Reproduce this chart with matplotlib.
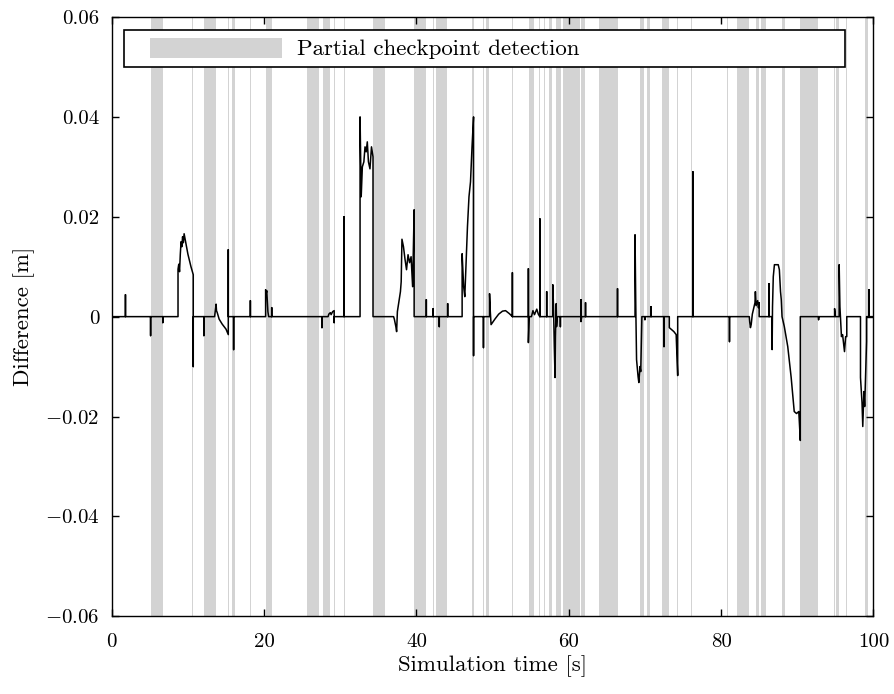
import matplotlib
matplotlib.use("Agg")
import matplotlib.pyplot as plt
import matplotlib.patches as mpatches
from matplotlib.legend_handler import HandlerPatch

plt.rcParams['font.family'] = 'serif'
plt.rcParams['font.serif'] = ['cmr10', 'DejaVu Serif']
plt.rcParams['mathtext.fontset'] = 'cm'
plt.rcParams['axes.unicode_minus'] = False
plt.rcParams['font.size'] = 16.5

# time intervals where a partial checkpoint was detected [s]
band_start = [5.16, 10.59, 12.08, 12.3, 15.27, 15.8, 18.2, 20.22, 20.43, 25.69,
              27.75, 29.19, 30.5, 34.31, 39.7, 42.2, 42.55, 47.27, 48.76, 49.11,
              52.57, 54.8, 56.1, 56.8, 57.4, 58.35, 59.3, 61.63, 64.0, 69.4,
              70.3, 72.3, 74.27, 76.1, 80.8, 82.1, 84.6, 85.2, 87.95, 90.3,
              94.8, 95.15, 96.45, 98.95]
band_end = [6.74, 10.72, 12.18, 13.74, 15.4, 16.2, 18.33, 20.35, 21.05, 27.18,
            28.63, 29.32, 30.63, 35.89, 41.3, 42.33, 43.99, 47.53, 48.9, 49.55,
            52.7, 55.5, 56.25, 56.93, 57.86, 58.96, 61.5, 62.15, 66.5, 69.9,
            70.7, 73.1, 74.4, 76.23, 80.93, 83.7, 84.96, 85.9, 88.45, 92.75,
            94.98, 95.47, 96.58, 99.35]

# difference signal
time_s = [0, 1.8, 1.8, 1.8,
          5.1, 5.1, 5.1,
          6.7, 6.7, 6.7,
          8.7, 8.7, 8.8, 8.9, 9.0, 9.1, 9.2, 9.3, 9.4, 9.5, 9.7, 10.0, 10.4, 10.7, 10.7, 10.7,
          12.1, 12.1, 12.1,
          13.5, 13.6, 13.7, 13.75, 13.85, 14.1, 14.5, 15.0, 15.3, 15.3, 15.3,
          16.0, 16.0, 16.0,
          18.2, 18.2, 18.2,
          20.2, 20.2, 20.3, 20.35, 20.5, 20.6,
          21.0, 21.0, 21.0,
          27.6, 27.6, 27.6,
          28.4, 28.5, 28.7, 28.8, 29.0, 29.2, 29.2, 29.2,
          30.5, 30.5, 30.5,
          32.6, 32.6, 32.75, 32.9, 33.1, 33.25, 33.4, 33.55, 33.7, 33.9, 34.1, 34.3, 34.3,
          37.0, 37.1, 37.3, 37.4, 37.5, 37.7, 37.8, 37.9, 38.0, 38.1, 38.3, 38.5, 38.7, 38.9,
          39.1, 39.3, 39.5, 39.7, 39.7,
          41.3, 41.3, 41.3,
          42.2, 42.2, 42.2,
          43.0, 43.0, 43.0,
          44.1, 44.1, 44.1,
          46.0, 46.0, 46.2, 46.35, 46.5, 46.7, 46.9, 47.1, 47.3, 47.5, 47.5, 47.5,
          48.8, 48.8, 48.8,
          49.6, 49.6, 49.7, 49.8, 50.3, 50.8, 51.3, 51.7, 52.2, 52.6, 52.6, 52.6,
          54.7, 54.7, 54.7, 54.8,
          55.1, 55.3, 55.5, 55.8, 56.0, 56.2, 56.2, 56.2,
          57.1, 57.1, 57.1,
          57.9, 57.9, 58.0, 58.1, 58.2, 58.25, 58.35, 58.4, 58.5,
          58.9, 58.9, 58.9,
          61.6, 61.6, 61.6, 61.7,
          62.2, 62.2, 62.2,
          66.4, 66.4, 66.4,
          68.7, 68.7, 68.8, 68.9, 69.1, 69.2, 69.35, 69.45, 69.6,
          70.0, 70.0, 70.0,
          70.8, 70.8, 70.8,
          72.5, 72.5, 72.5,
          73.2, 73.2, 73.5, 73.8, 74.1, 74.3, 74.3,
          76.3, 76.3, 76.3,
          81.1, 81.1, 81.1,
          83.7, 83.75, 83.85, 83.95, 84.1, 84.3, 84.45, 84.5, 84.6, 84.8, 84.9, 85.0, 85.0,
          86.3, 86.3, 86.3,
          86.7, 86.7, 86.75, 86.85, 87.0, 87.5, 87.65, 87.8, 87.9, 88.0, 88.3, 88.75, 89.2,
          89.6, 89.9, 90.2, 90.4, 90.4,
          92.8, 92.8, 92.8,
          94.9, 94.9, 95.0,
          95.5, 95.5, 95.6, 95.8, 95.95, 96.2, 96.35, 96.5, 96.5,
          98.3, 98.3, 98.5, 98.6, 98.75, 98.85, 99.1, 99.1,
          99.4, 99.4, 99.4, 100]
diff_m = [0, 0, 0.0044, 0,
          0, -0.0038, 0,
          0, -0.0012, 0,
          0, 0.0095, 0.0105, 0.009, 0.0125, 0.015, 0.014, 0.016, 0.0148, 0.0166, 0.015, 0.0125, 0.010, 0.0084, -0.010, 0,
          0, -0.0038, 0,
          0, 0.0012, 0.0025, 0.0012, 0.0008, -0.0005, -0.0015, -0.0025, -0.0036, 0.0134, 0,
          0, -0.0066, 0,
          0, 0.0032, 0,
          0, 0.0054, 0.0048, 0.0052, 0.001, 0,
          0, 0.0018, 0,
          0, -0.0022, 0,
          0, 0.0005, 0.0008, 0.0004, 0.001, 0.0012, -0.0012, 0,
          0, 0.020, 0,
          0, 0.040, 0.024, 0.030, 0.031, 0.034, 0.033, 0.035, 0.031, 0.0296, 0.034, 0.032, 0,
          0, -0.0005, -0.002, -0.003, 0.001, 0.003, 0.004, 0.005, 0.007, 0.0155, 0.014, 0.0115, 0.0094, 0.0124,
          0.0108, 0.012, 0.006, 0.0214, 0,
          0, 0.0034, 0,
          0, 0.0016, 0,
          0, -0.002, 0,
          0, 0.0026, 0,
          0, 0.0126, 0.006, 0.004, 0.010, 0.018, 0.024, 0.027, 0.034, 0.040, -0.0078, 0,
          0, -0.0062, 0,
          0, 0.0046, 0.001, -0.0016, -0.0005, 0.0005, 0.0011, 0.0012, 0.0006, 0, 0.0088, 0,
          0, 0.0096, -0.0052, 0,
          0, 0.0012, 0.0004, 0.0015, 0.0005, 0, 0.0196, 0,
          0, 0.005, 0,
          0, 0.0064, 0.002, -0.006, -0.0122, -0.004, 0.0026, -0.002, 0,
          0, -0.002, 0,
          0, 0.0034, -0.001, 0,
          0, 0.0028, 0,
          0, 0.0056, 0,
          0, 0.0164, 0.002, -0.0086, -0.012, -0.0132, -0.010, -0.011, 0,
          0, -0.0006, 0,
          0, 0.002, 0,
          0, -0.006, 0,
          0, -0.0022, -0.0026, -0.003, -0.0036, -0.0118, 0,
          0, 0.029, 0,
          0, -0.005, 0,
          0, -0.001, -0.0022, -0.0016, 0.0005, 0.0018, 0.0028, 0.005, 0.0022, 0.0032, 0.0018, 0.0028, 0,
          0, 0.0066, 0,
          0, -0.0066, 0.002, 0.008, 0.0104, 0.0104, 0.0094, 0.005, 0.0034, 0.0, -0.002, -0.006, -0.0122,
          -0.019, -0.0194, -0.019, -0.0248, 0,
          0, -0.0006, 0,
          0, 0.0016, 0,
          0, 0.0104, 0.002, -0.004, -0.0036, -0.007, -0.004, -0.004, 0,
          0, -0.0122, -0.0172, -0.022, -0.015, -0.018, -0.005, 0,
          0, 0.0054, 0, 0]

yticks = [-0.06, -0.04, -0.02, 0, 0.02, 0.04, 0.06]
ytick_labels = ['$-$0.06', '$-$0.04', '$-$0.02', '0', '0.02', '0.04', '0.06']
xticks = [0, 20, 40, 60, 80, 100]


def shifted_patch(legend, orig_handle, xdescent, ydescent, width, height, fontsize):
    # leave some blank space before the grey box, like the original legend
    gap = 0.12 * width
    return mpatches.Rectangle((-xdescent + gap, -ydescent), width - gap, height)


fig = plt.figure(figsize=(8.94, 6.94), dpi=100)
ax = fig.add_axes([0.125, 0.112, 0.852, 0.8635])

for i in range(len(band_start)):
    ax.axvspan(band_start[i], band_end[i], color='#d3d3d3', lw=0, zorder=1)

ax.plot(time_s, diff_m, color='black', lw=1.1, zorder=3)

ax.set_xlim(0, 100)
ax.set_ylim(-0.06, 0.06)
ax.set_xticks(xticks)
ax.set_xticklabels([str(x) for x in xticks])
ax.set_yticks(yticks)
ax.set_yticklabels(ytick_labels)
ax.tick_params(direction='in', top=True, right=True, length=5, width=1.0, labelsize=15)
ax.tick_params(axis='x', pad=12)
ax.tick_params(axis='y', pad=9)
for s in ax.spines.values():
    s.set_linewidth(1.0)

ax.set_xlabel('Simulation time [s]', labelpad=3)
ax.set_ylabel('Difference [m]', labelpad=7)

gray = mpatches.Patch(facecolor='#d3d3d3', edgecolor='none', label='Partial checkpoint detection')
leg = ax.legend(handles=[gray], loc='upper left', bbox_to_anchor=(0.0158, 0.915, 0.947, 0.064),
                mode='expand', borderaxespad=0, borderpad=0.35, handlelength=6.55,
                handleheight=0.96, handletextpad=0.66, fancybox=False, framealpha=1,
                edgecolor='black', handler_map={mpatches.Patch: HandlerPatch(patch_func=shifted_patch)})
leg.get_frame().set_linewidth(1.2)
leg.set_zorder(5)

fig.savefig('out.png', dpi=100)
